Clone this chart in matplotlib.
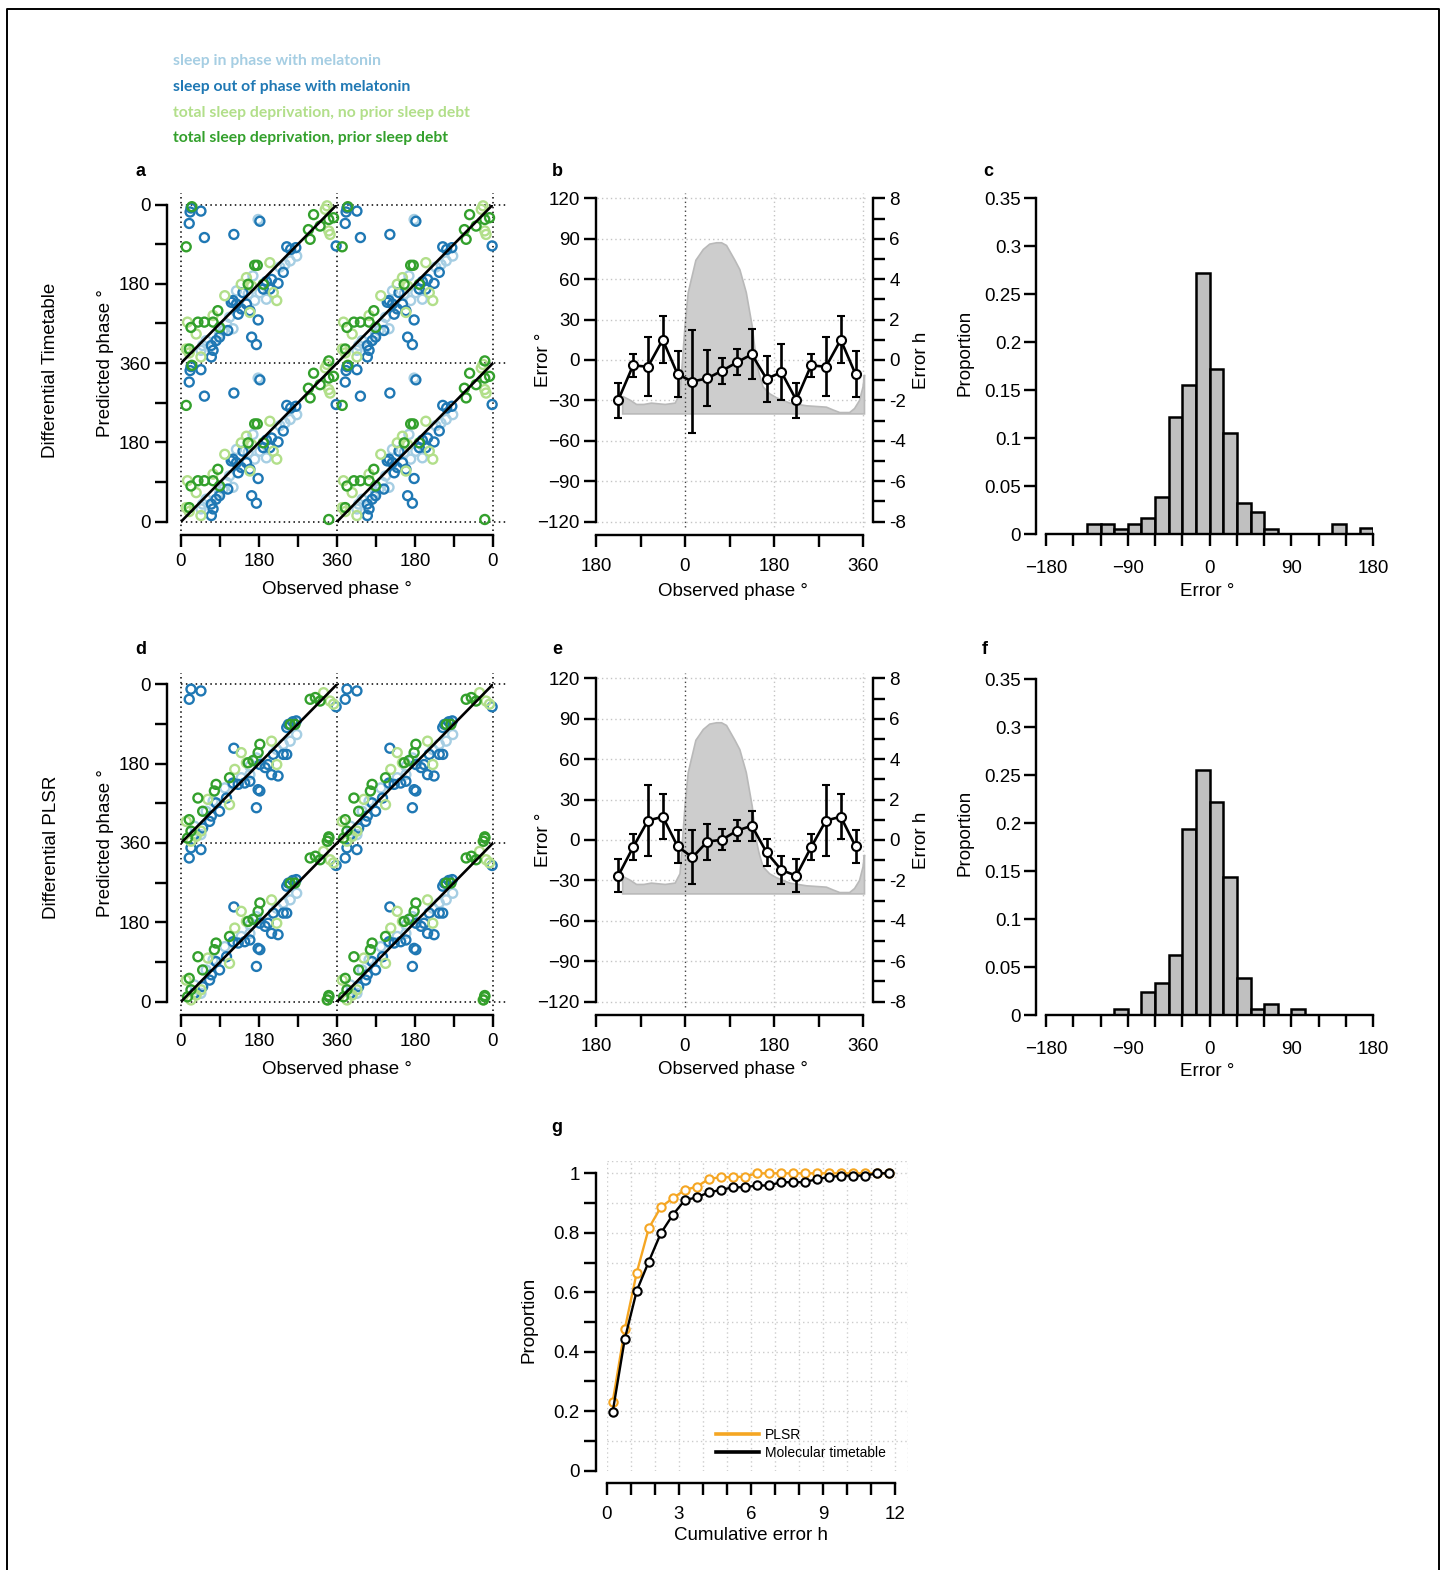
import numpy as np
import matplotlib
matplotlib.use("Agg")
from matplotlib import pyplot as plt
from matplotlib.lines import Line2D

plt.rcParams['font.family'] = ['Liberation Sans', 'DejaVu Sans']

W, H = 1445, 1570
PT = 72 / 100  # points per pixel at dpi 100

group_names = ["sleep in phase with melatonin",
               "sleep out of phase with melatonin",
               "total sleep deprivation, no prior sleep debt",
               "total sleep deprivation, prior sleep debt"]
group_colors = ["#a6cee3", "#1f78b4", "#b2df8a", "#33a02c"]

# (observed phase, predicted phase) in degrees -- molecular timetable
tt_in_phase = [(178, 326), (267, 243), (252, 232), (240, 224), (228, 218), (166, 198), (182, 160),
               (197, 145), (170, 142), (155, 157), (112, 104), (105, 89), (120, 78), (97, 74),
               (89, 66), (50, 40), (46, 29), (58, 51), (128, 164)]
tt_out_phase = [(23, 352), (46, 345), (19, 317), (21, 343), (182, 322), (54, 285), (122, 292),
                (244, 264), (253, 258), (265, 262), (358, 266), (236, 206), (209, 190), (224, 181),
                (197, 185), (190, 168), (205, 168), (143, 160), (120, 142), (116, 138), (128, 134),
                (151, 134), (139, 123), (132, 111), (159, 119), (178, 98), (108, 74), (89, 59),
                (81, 51), (70, 40), (74, 29), (70, 14), (163, 59), (174, 42)]
tt_sd_nodebt = [(341, 300), (344, 292), (333, 349), (337, 357), (205, 228), (151, 194), (139, 179),
                (163, 175), (221, 142), (213, 160), (101, 153), (74, 108), (15, 93), (35, 66),
                (12, 32), (19, 23), (46, 14), (159, 115)]
tt_sd_debt = [(341, 5), (306, 337), (321, 311), (352, 330), (341, 326), (294, 303), (298, 281),
              (170, 222), (176, 222), (155, 179), (190, 179), (85, 119), (74, 93), (54, 93),
              (39, 93), (23, 81), (89, 81), (19, 32), (12, 264), (25, 355)]

# (observed phase, predicted phase) in degrees -- PLSR
pl_in_phase = [(267, 246), (252, 231), (236, 224), (221, 212), (174, 193), (159, 174), (139, 148),
               (120, 133), (101, 125), (74, 95), (58, 72), (46, 19), (31, 38), (159, 155)]
pl_out_phase = [(23, 349), (46, 345), (19, 326), (122, 215), (358, 309), (248, 269), (258, 275),
                (266, 277), (244, 262), (213, 201), (236, 201), (244, 201), (201, 178), (194, 171),
                (209, 155), (224, 152), (182, 178), (159, 140), (147, 136), (132, 133), (120, 136),
                (178, 121), (182, 118), (174, 80), (89, 72), (81, 91), (66, 49), (50, 34),
                (31, 19), (70, 61), (105, 102)]
pl_sd_nodebt = [(337, 4), (329, 341), (344, 322), (352, 315), (209, 231), (139, 205), (151, 182),
                (124, 167), (221, 178), (112, 87), (62, 99), (12, 49), (46, 27), (35, 15), (23, 4)]
pl_sd_debt = [(341, 14), (338, 4), (341, 11), (298, 326), (310, 330), (321, 322), (252, 269),
              (263, 269), (182, 224), (178, 205), (166, 187), (155, 182), (112, 148), (81, 133),
              (77, 118), (39, 102), (50, 72), (19, 53), (23, 27), (15, 11)]

# error by observed phase bin (degrees)
bin_centres = [15, 45, 75, 105, 135, 165, 195, 225, 255, 285, 315, 345]
tt_err_mean = [-16, -13.6, -8, -1.7, 4.2, -14, -9, -29.7, -4, -5, 15, -10.6]
tt_err_sd = [38.5, 20.8, 9.5, 9.5, 18.5, 17, 21, 13, 8.5, 22, 17.5, 17]
pl_err_mean = [-12.9, -1.2, 0.2, 6.9, 10.6, -9.2, -22.3, -26.5, -5.4, 14.4, 17.3, -4.7]
pl_err_sd = [20, 13.3, 7.8, 7.7, 11, 10, 10.3, 12.4, 9.7, 26.4, 16.7, 12.4]

# sleep distribution shading (outline, degrees)
sleep_x = [-126, -126, -110, -98, -83, -68, -40, -20, -10, -5, 0, 6.5, 22, 37, 50, 64, 74, 84,
           101, 111, 124, 136, 144, 150, 158, 171, 185, 212, 246, 286, 299, 313, 333, 343, 353,
           360, 363, 363]
sleep_y = [-40, -27, -30, -33, -33, -32, -33, -32, -25, 0, 25, 50, 74, 82, 86, 87, 87, 85,
           74, 67, 50, 25, 0, -10, -20, -25, -28, -32, -34, -35, -37, -39, -39, -36, -30,
           -20, -11, -40]

# error histograms, 15 degree bins from -180 to 180
hist_edges = np.arange(-180, 181, 15)
tt_hist = [0, 0, 0, 0.011, 0.011, 0.0056, 0.011, 0.0167, 0.0385, 0.1226, 0.1556, 0.272,
           0.172, 0.106, 0.033, 0.0229, 0.0056, 0, 0, 0, 0, 0.011, 0, 0.0062]
pl_hist = [0, 0, 0, 0, 0, 0.0059, 0, 0.0243, 0.0337, 0.0625, 0.194, 0.255,
           0.222, 0.144, 0.0389, 0.0059, 0.011, 0, 0.0059, 0, 0, 0, 0, 0]

# cumulative error
cdf_hours = [0.25, 0.75, 1.25, 1.75, 2.25, 2.75, 3.25, 3.75, 4.25, 4.75, 5.25, 5.75,
             6.25, 6.75, 7.25, 7.75, 8.25, 8.75, 9.25, 9.75, 10.25, 10.75, 11.25, 11.75]
pl_cdf = [0.232, 0.475, 0.666, 0.815, 0.886, 0.916, 0.944, 0.955, 0.981, 0.987, 0.987, 0.989,
          1, 1, 1, 1, 1, 1, 1, 1, 1, 1, 1, 1]
tt_cdf = [0.198, 0.442, 0.605, 0.703, 0.798, 0.86, 0.91, 0.919, 0.936, 0.944, 0.953, 0.953,
          0.959, 0.959, 0.97, 0.97, 0.97, 0.981, 0.987, 0.992, 0.992, 0.992, 1, 1]


def fx(x):
    return x / W


def fy(y):
    return 1 - y / H


def axes_px(fig, left, top, right, bottom):
    return fig.add_axes([left / W, 1 - bottom / H, (right - left) / W, (bottom - top) / H])


def base_style(ax, xpad=3, size=13.5):
    ax.tick_params(direction='out', length=12 * PT, width=2.4 * PT, labelsize=size, pad=3)
    ax.tick_params(axis='x', pad=xpad)
    for s in ax.spines.values():
        s.set_linewidth(2.4 * PT)
    ax.spines['top'].set_visible(False)
    ax.spines['right'].set_visible(False)
    ax.patch.set_alpha(0)


DOT = (0, (1, 2.2))


def phase_panel(ax, groups):
    ax.set_xlim(0, 720)
    ax.set_ylim(0, 720)
    for pts, col in zip(groups, group_colors):
        obs = np.array([p[0] for p in pts], float)
        pred = np.array([p[1] for p in pts], float)
        for dx in (0, 360):
            for dy in (0, 360):
                ax.scatter(obs + dx, pred + dy, s=42, facecolors='none', edgecolors=col,
                           linewidths=1.7, clip_on=False, zorder=3)
    u = np.array([0, 720])
    for off in (-360, 0, 360):
        ax.plot(u, u + off, color='k', lw=1.9, zorder=4)
    for v in (0, 360, 720):
        ax.plot([v, v], [-20, 745], color='k', lw=1.1, ls=DOT, clip_on=False, zorder=1)
        ax.plot([0, 750], [v, v], color='k', lw=1.1, ls=DOT, clip_on=False, zorder=1)
    ticks = np.arange(0, 721, 90)
    labels = ['0', '', '180', '', '360', '', '180', '', '0']
    ax.set_xticks(ticks, labels)
    ax.set_yticks(ticks, labels)
    base_style(ax, xpad=4.5)
    ax.spines['left'].set_position(('outward', 14.5 * PT))
    ax.spines['bottom'].set_position(('outward', 13.5 * PT))


def error_panel(ax, means, sds):
    ax.set_xlim(-180, 360)
    ax.set_ylim(-120, 120)
    for yv in range(-120, 121, 30):
        ax.plot([-178, 366], [yv, yv], color='#c4c4c4', lw=1.0, ls=DOT, clip_on=False, zorder=0)
    for xv in (180, 360):
        ax.plot([xv, xv], [-124, 124], color='#c4c4c4', lw=1.0, ls=DOT, clip_on=False, zorder=0)
    ax.plot([0, 0], [-124, 124], color='#444444', lw=1.0, ls=DOT, clip_on=False, zorder=2)
    ax.fill(sleep_x, sleep_y, facecolor='#cdcdcd', edgecolor='#b9b9b9', lw=1.2,
            zorder=1, clip_on=False)
    x = np.concatenate([np.array(bin_centres[7:]) - 360, bin_centres])
    m = np.concatenate([means[7:], means])
    e = np.concatenate([sds[7:], sds])
    ax.errorbar(x, m, yerr=e, fmt='-o', color='k', lw=1.9, ms=6.5, mfc='white', mec='k',
                mew=1.5, capsize=2.8, capthick=1.9, elinewidth=1.9, zorder=5)
    ax.set_xticks(range(-180, 361, 90), ['180', '', '0', '', '180', '', '360'])
    ax.set_yticks(range(-120, 121, 30))
    base_style(ax, xpad=7.5)
    ax.spines['left'].set_bounds(-120, 120)
    ax.spines['bottom'].set_position(('outward', 13.5 * PT))
    ax2 = ax.twinx()
    ax2.set_ylim(-8, 8)
    ax2.set_yticks(range(-8, 9), [str(v) if v % 2 == 0 else '' for v in range(-8, 9)])
    base_style(ax2)
    ax2.spines['right'].set_visible(True)
    ax2.spines['left'].set_visible(False)
    ax2.spines['bottom'].set_visible(False)
    ax2.spines['right'].set_position(('outward', 10 * PT))
    ax2.tick_params(axis='x', bottom=False, labelbottom=False)


def hist_panel(ax, props):
    props = np.array(props)
    keep = props > 0
    ax.bar(hist_edges[:-1][keep], props[keep], width=15, align='edge', facecolor='#c0c0c0',
           edgecolor='k', lw=1.8, zorder=2)
    ax.set_xlim(-180, 180)
    ax.set_ylim(0, 0.35)
    ax.set_xticks(range(-180, 181, 30),
                  ['\u2212180', '', '', '\u221290', '', '', '0', '', '', '90', '', '', '180'])
    ax.set_yticks(np.arange(0, 0.351, 0.05),
                  ['0', '0.05', '0.1', '0.15', '0.2', '0.25', '0.3', '0.35'])
    base_style(ax, xpad=10)
    ax.spines['left'].set_position(('outward', 10 * PT))
    ax.tick_params(axis='y', pad=2)


fig = plt.figure(figsize=(W / 100, H / 100), dpi=100)

# outer frame
fig.add_artist(Line2D([fx(7), fx(7), fx(1439), fx(1439)], [fy(1580), fy(9), fy(9), fy(1580)],
                      color='k', lw=1.4))

# group legend
for i, (name, col) in enumerate(zip(group_names, group_colors)):
    fig.text(fx(173), fy(61.5 + i * 25.5), name, color=col, fontsize=11.3, fontweight='bold',
             family=['Lato', 'DejaVu Sans'], ha='left', va='center')

# panels a, d
ax_a = axes_px(fig, 181, 204.5, 493, 521.7)
phase_panel(ax_a, [tt_in_phase, tt_out_phase, tt_sd_nodebt, tt_sd_debt])
ax_d = axes_px(fig, 181, 684.3, 493, 1001.7)
phase_panel(ax_d, [pl_in_phase, pl_out_phase, pl_sd_nodebt, pl_sd_debt])

# panels b, e
ax_b = axes_px(fig, 596, 198.3, 863, 521.7)
error_panel(ax_b, tt_err_mean, tt_err_sd)
ax_e = axes_px(fig, 596, 678.3, 863, 1001.7)
error_panel(ax_e, pl_err_mean, pl_err_sd)

# panels c, f
ax_c = axes_px(fig, 1046, 198.3, 1373.3, 534.3)
hist_panel(ax_c, tt_hist)
ax_f = axes_px(fig, 1046, 679, 1373.3, 1015)
hist_panel(ax_f, pl_hist)

# panel g
ax_g = axes_px(fig, 606.7, 1161.4, 908.3, 1470.7)
ax_g.set_xlim(0, 12.55)
ax_g.set_ylim(0, 1.04)
for xv in list(range(0, 13)) + [12.55]:
    ax_g.plot([xv, xv], [0, 1.04], color='#cccccc', lw=1.0, ls=DOT, zorder=0)
for yv in list(np.arange(0.1, 1.01, 0.1)) + [1.04]:
    ax_g.plot([0, 12.55], [yv, yv], color='#cccccc', lw=1.0, ls=DOT, zorder=0)
ax_g.plot(cdf_hours, pl_cdf, '-o', color='#f5a623', lw=1.7, ms=6, mfc='white', mec='#f5a623',
          mew=1.5, zorder=3, clip_on=False)
ax_g.plot(cdf_hours, tt_cdf, '-o', color='k', lw=1.7, ms=6, mfc='white', mec='k',
          mew=1.5, zorder=4, clip_on=False)
ax_g.set_xticks(range(0, 13), ['0', '', '', '3', '', '', '6', '', '', '9', '', '', '12'])
ax_g.set_yticks(np.arange(0, 1.01, 0.1),
                ['0', '', '0.2', '', '0.4', '', '0.6', '', '0.8', '', '1'])
base_style(ax_g, xpad=8)
ax_g.spines['left'].set_bounds(0, 1)
ax_g.spines['bottom'].set_bounds(0, 12)
ax_g.spines['left'].set_position(('outward', 10.7 * PT))
ax_g.spines['bottom'].set_position(('outward', 12.6 * PT))
handles = [Line2D([], [], color='#f5a623', lw=2.6), Line2D([], [], color='k', lw=2.6)]
ax_g.legend(handles, ['PLSR', 'Molecular timetable'], loc='upper left',
            bbox_to_anchor=(fx(716), fy(1428)), bbox_transform=fig.transFigure,
            frameon=False, fontsize=10, handlelength=3.1, handletextpad=0.45,
            labelspacing=0.3, borderpad=0, borderaxespad=0)

# panel letters
for letter, (x, y) in zip('abcdefg', [(141, 171), (557, 171), (988, 171), (141, 649),
                                      (557, 649), (985, 649), (557, 1128)]):
    fig.text(fx(x), fy(y), letter, fontsize=13, fontweight='bold', ha='center', va='center')

# row labels
fig.text(fx(51), fy(370), 'Differential Timetable', fontsize=13.5, rotation=90,
         ha='center', va='center')
fig.text(fx(51), fy(847), 'Differential PLSR', fontsize=13.5, rotation=90,
         ha='center', va='center')

# axis labels
ylabels = [(106, 363, 'Predicted phase \u00b0'), (106, 843, 'Predicted phase \u00b0'),
           (544, 360, 'Error \u00b0'), (544, 840, 'Error \u00b0'),
           (922, 360, 'Error h'), (922, 840, 'Error h'),
           (965, 353, 'Proportion'), (965, 833, 'Proportion'),
           (529, 1320, 'Proportion')]
for x, y, s in ylabels:
    fig.text(fx(x), fy(y), s, fontsize=13.5, rotation=90, ha='center', va='center')
xlabels = [(337, 589, 'Observed phase \u00b0'), (337, 1069, 'Observed phase \u00b0'),
           (733, 591, 'Observed phase \u00b0'), (733, 1069, 'Observed phase \u00b0'),
           (1207, 591, 'Error \u00b0'), (1207, 1071, 'Error \u00b0'),
           (751, 1535, 'Cumulative error h')]
for x, y, s in xlabels:
    fig.text(fx(x), fy(y), s, fontsize=13.5, ha='center', va='center')

fig.savefig('out.png', dpi=100)
